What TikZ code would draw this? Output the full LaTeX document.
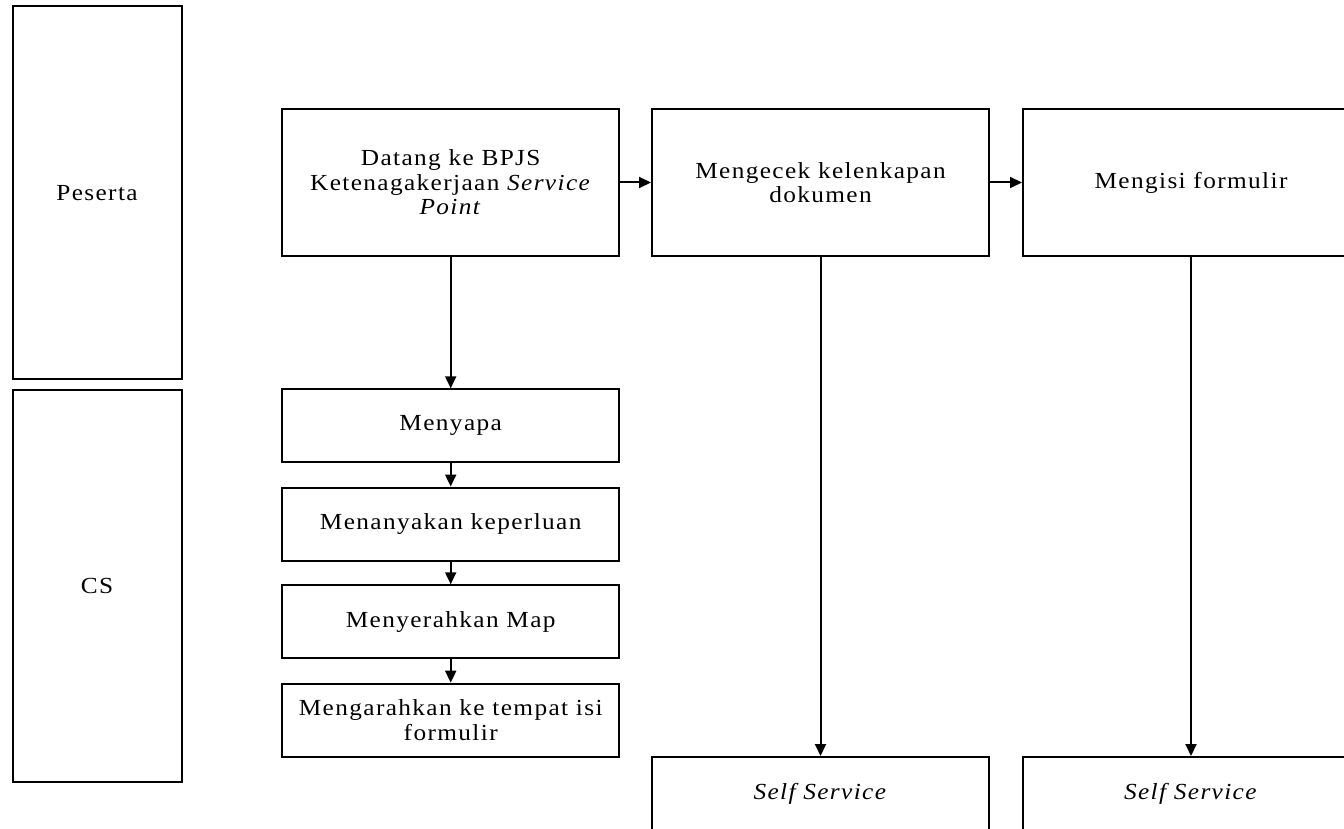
\documentclass[tikz,border=0pt]{standalone}
\usepackage{fontspec}
\setmainfont{Liberation Serif}[FakeStretch=1.1, LetterSpace=6]
\usetikzlibrary{arrows.meta}
\begin{document}
\begin{tikzpicture}[x=1pt,y=-1pt,
  line width=2pt,
  box/.style={draw=black, rectangle, inner sep=0pt, align=center,
    font=\fontsize{23}{24.5}\selectfont},
  lane/.style={box, minimum width=169pt},
  wide/.style={box, minimum width=337pt, minimum height=147pt},
  small/.style={box, minimum width=337pt, minimum height=73pt},
  flow/.style={-{Triangle[length=12pt,width=11pt]}, line width=2pt}]
  \clip (0,0) rectangle (1344,829);
  % swimlane labels
  \node[lane, minimum height=373pt] (peserta) at (97,192.7) {Peserta};
  \node[lane, minimum height=392pt] (cs) at (97,585.5) {CS};
  % participant row
  \node[wide] (datang) at (450.7,182.5) {Datang ke BPJS\\Ketenagakerjaan \textit{Service}\\\textit{Point}};
  \node[wide] (cek) at (820.5,182.5) {Mengecek kelenkapan\\dokumen};
  \node[wide, minimum width=336pt] (isi) at (1191,182.5) {Mengisi formulir};
  % customer service steps
  \node[small] (sapa) at (450.7,425.8) {Menyapa};
  \node[small] (tanya) at (450.7,524) {Menanyakan keperluan};
  \node[small] (serah) at (450.7,621.8) {Menyerahkan Map};
  \node[small] (arah) at (450.7,720.2) {Mengarahkan ke tempat isi\\formulir};
  % self service
  \node[small] (self1) at (820.5,793.5) {\textit{Self Service}};
  \node[small, minimum width=336pt] (self2) at (1191,793.5) {\textit{Self Service}};
  % connectors
  \draw[flow] (datang) -- (cek);
  \draw[flow] (cek) -- (isi);
  \draw[flow] (datang) -- (sapa);
  \draw[flow] (sapa) -- (tanya);
  \draw[flow] (tanya) -- (serah);
  \draw[flow] (serah) -- (arah);
  \draw[flow] (cek) -- (self1);
  \draw[flow] (isi) -- (self2);
\end{tikzpicture}
\end{document}
